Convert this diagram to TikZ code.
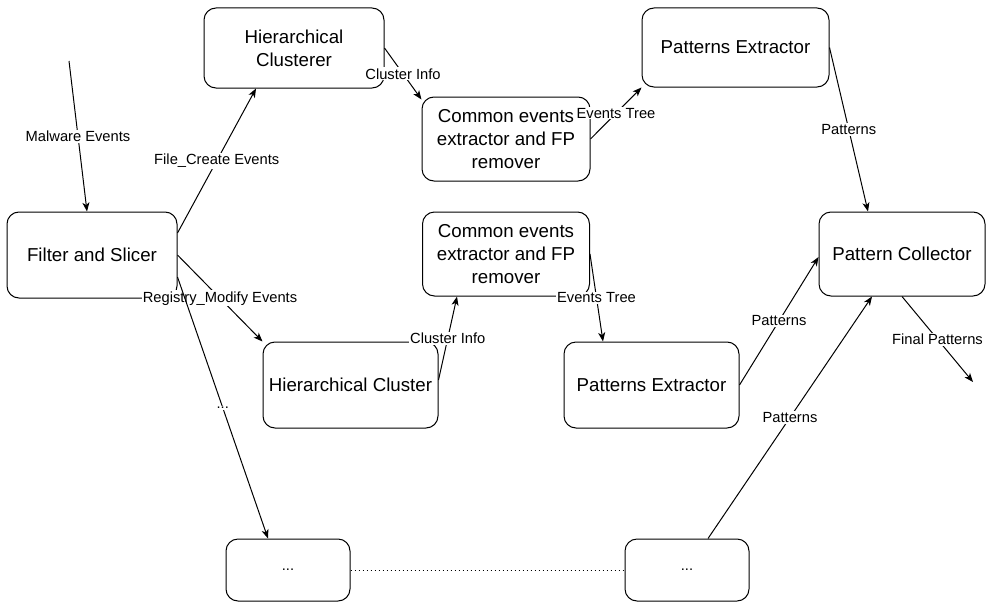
\documentclass[tikz,border=0pt]{standalone}
\usepackage{fontspec}
\setmainfont{Liberation Sans}
\usetikzlibrary{arrows.meta,calc}
\begin{document}
\begin{tikzpicture}[x=1pt,y=-1pt,
  box/.style={draw, line width=1pt, rounded corners=12pt, align=center,
    font=\fontsize{18.7}{23}\selectfont, inner sep=0pt},
  smallbox/.style={box, font=\fontsize{14.7}{17}\selectfont},
  conn/.style={line width=1pt, -{Stealth[length=9pt,width=7pt,inset=2.5pt]}},
  lbl/.style={fill=white, inner sep=1pt, font=\fontsize{14.7}{17}\selectfont}
]
\useasboundingbox (0,0) rectangle (987,602);

% boxes
\node[box, minimum width=180pt, minimum height=80pt] (hc1) at (294,48) {Hierarchical\\Clusterer};
\node[box, minimum width=168pt, minimum height=84pt] (ce1) at (506,139) {Common events\\extractor and FP\\remover};
\node[box, minimum width=187pt, minimum height=79pt] (pe1) at (735.5,47.5) {Patterns Extractor};
\node[box, minimum width=170pt, minimum height=86pt] (fs) at (92,255) {Filter and Slicer};
\node[box, minimum width=167pt, minimum height=84pt] (ce2) at (506,254) {Common events\\extractor and FP\\remover};
\node[box, minimum width=166pt, minimum height=84pt] (pc) at (902,254) {Pattern Collector};
\node[box, minimum width=175pt, minimum height=86pt] (hc2) at (350.5,385) {Hierarchical Cluster};
\node[box, minimum width=175pt, minimum height=86pt] (pe2) at (651.5,385) {Patterns Extractor};
\node[smallbox, minimum width=124pt, minimum height=62pt] (d1) at (288,570) {...};
\node[smallbox, minimum width=124pt, minimum height=62pt] (d2) at (687,570) {...};

\coordinate (mstart) at (69,61);
\coordinate (fend) at (973,382);

% connectors
\draw[conn] (mstart) -- node[lbl] {Malware Events} ([xshift=-5pt]fs.north);
\draw[conn] ([yshift=22pt]fs.east) -- node[lbl] {File\_Create Events} ([xshift=-38pt]hc1.south);
\draw[conn] (hc1.east) -- node[lbl] {Cluster Info} ([yshift=-3pt]ce1.north west);
\draw[conn] (fs.east) -- node[lbl] {Registry\_Modify Events} (hc2.north west);
\draw[conn] ([yshift=-22pt]fs.east) -- node[lbl] {...} ([xshift=-20pt]d1.north);
\draw[conn] ([yshift=5pt]hc2.east) -- node[lbl] {Cluster Info} ([xshift=-49pt]ce2.south);
\draw[conn] (ce1.east) -- node[lbl] {Events Tree} (pe1.south west);
\draw[conn] (pe1.east) -- node[lbl] {Patterns} ([xshift=-34pt]pc.north);
\draw[conn] (ce2.east) -- node[lbl] {Events Tree} ([xshift=-48.5pt]pe2.north);
\draw[conn] (pe2.east) -- node[lbl] {Patterns} ([yshift=-3pt]pc.west);
\draw[conn] ([xshift=21pt]d2.north) -- node[lbl] {Patterns} ([xshift=-30pt]pc.south);
\draw[conn] (pc.south) -- node[lbl] {Final Patterns} (fend);
\draw[line width=1pt, dash pattern=on 1pt off 3pt] (d1.east) -- (d2.west);
\end{tikzpicture}
\end{document}
